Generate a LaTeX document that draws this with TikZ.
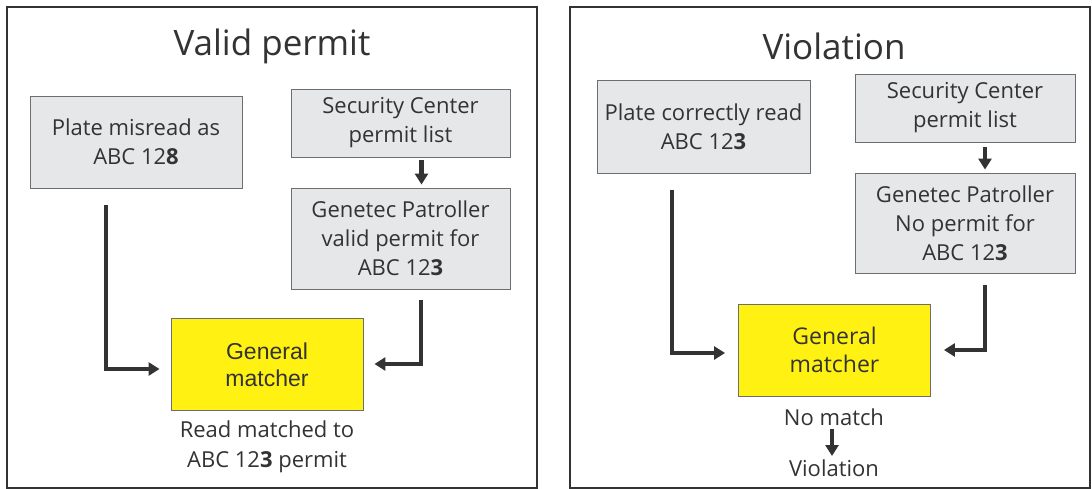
\documentclass[tikz,border=0pt]{standalone}
\usepackage{fontspec}
\setmainfont{Open Sans}
\newfontfamily\arialfont{Liberation Sans}
\usetikzlibrary{arrows.meta}
\definecolor{inkgray}{HTML}{333333}
\definecolor{boxgray}{HTML}{E6E7E8}
\definecolor{edgegray}{HTML}{6D6E71}
\definecolor{matchyellow}{HTML}{FFF212}
\begin{document}
\begin{tikzpicture}[x=1pt,y=-1pt,
  panel/.style={draw=inkgray,line width=2.5pt},
  heading/.style={text=inkgray,font=\fontsize{35}{40}\selectfont},
  infobox/.style={draw=edgegray,line width=0.9pt,fill=boxgray,text=inkgray,align=center,inner sep=0pt,font=\fontsize{22}{29}\selectfont},
  matchbox/.style={draw=edgegray,line width=0.9pt,fill=matchyellow,text=inkgray,align=center,inner sep=0pt,minimum width=192pt,minimum height=92pt},
  note/.style={text=inkgray,align=center,font=\fontsize{22}{30}\selectfont},
  flow/.style={draw=inkgray,line width=4.5pt,-{Triangle[length=11pt,width=13pt]}}]
  \useasboundingbox (0,0) rectangle (1092,489);
  \fill[white] (0,0) rectangle (1092,489);
  \draw[panel] (7,7) rectangle (537,488);
  \draw[panel] (570,7) rectangle (1090,488);

  \node[heading] (titleA) at (272,46) {Valid permit};
  \node[infobox,minimum width=212pt,minimum height=92pt] (plateA) at (136,142) {Plate misread as\\ABC 12\textbf{8}};
  \node[infobox,minimum width=219pt,minimum height=68pt] (listA) at (400.5,123) {Security Center\\permit list};
  \node[infobox,minimum width=219pt,minimum height=101pt] (patrolA) at (400.5,238.5) {Genetec Patroller\\valid permit for\\ABC 12\textbf{3}};
  \node[matchbox,font=\arialfont\fontsize{23}{27}\selectfont] (matchA) at (267,364.5) {General\\matcher};
  \node[note] (resultA) at (267,447) {Read matched to\\ABC 12\textbf{3} permit};
  \draw[flow] ([xshift=21pt,yshift=-3pt]listA.south) -- ([xshift=21pt,yshift=3pt]patrolA.north);
  \draw[flow] ([xshift=-30pt,yshift=-17pt]plateA.south) |- ([xshift=-11pt,yshift=-4.5pt]matchA.west);
  \draw[flow] ([xshift=20.5pt,yshift=-11pt]patrolA.south) |- ([xshift=11pt,yshift=0.5pt]matchA.east);

  \node[heading] (titleB) at (834,46) {Violation};
  \node[infobox,minimum width=213pt,minimum height=93pt] (plateB) at (703.5,126.5) {Plate correctly read\\ABC 12\textbf{3}};
  \node[infobox,minimum width=220pt,minimum height=68pt] (listB) at (965,108) {Security Center\\permit list};
  \node[infobox,minimum width=220pt,minimum height=100pt] (patrolB) at (965,223) {Genetec Patroller\\No permit for\\ABC 12\textbf{3}};
  \node[matchbox,font=\fontsize{23}{28}\selectfont] (matchB) at (834.5,350) {General\\matcher};
  \node[note] (nomatch) at (834,417) {No match};
  \node[note] (violation) at (834,468) {Violation};
  \draw[flow] ([xshift=20pt,yshift=-5pt]listB.south) -- ([xshift=20pt,yshift=3pt]patrolB.north);
  \draw[flow] ([xshift=-31.5pt,yshift=-17pt]plateB.south) |- ([xshift=-13pt,yshift=-3pt]matchB.west);
  \draw[flow] ([xshift=20pt,yshift=-12pt]patrolB.south) |- ([xshift=13pt]matchB.east);
  \draw[flow] ([xshift=-2pt]nomatch.south) -- ([xshift=-2pt]violation.north);
\end{tikzpicture}
\end{document}
